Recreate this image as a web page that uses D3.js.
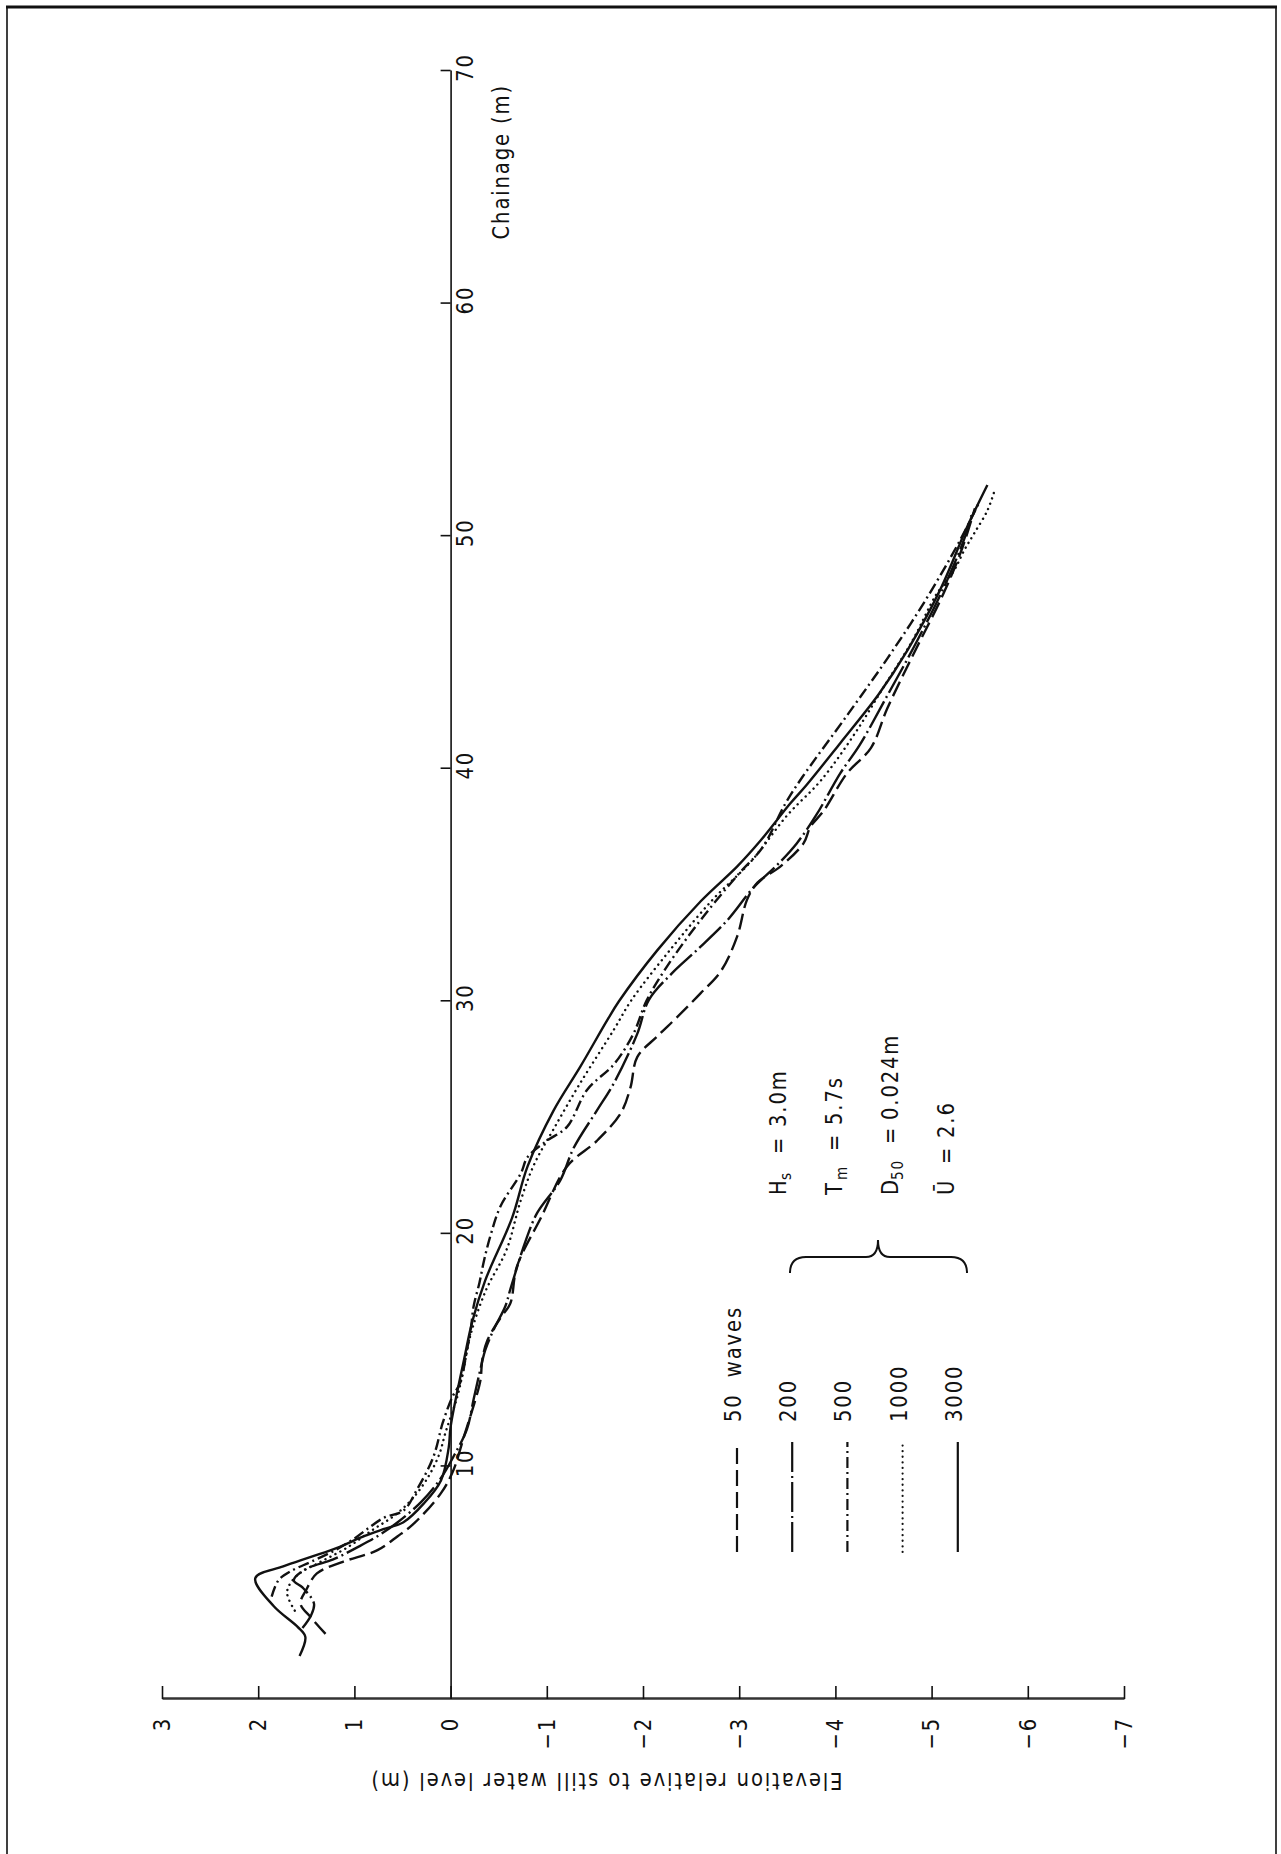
<!DOCTYPE html>
<html>
<head>
<meta charset="utf-8">
<script src="https://cdn.jsdelivr.net/npm/d3@7"></script>
<style>
    body { margin: 0; background: #fff; }
    svg text {
        font-family: "Liberation Sans Narrow", "DejaVu Sans Condensed", "DejaVu Sans", sans-serif;
        font-size: 23px;
        letter-spacing: 2px;
        fill: #111;
    }
</style>
</head>
<body>
<div id="chart"></div>
<script>
// chart data: [chainage (m), elevation (m)]
const chainageTicks = [10, 20, 30, 40, 50, 60, 70];
const elevationTicks = [3, 2, 1, 0, -1, -2, -3, -4, -5, -6, -7];
const seriesLabels = ["50  waves", "200", "500", "1000", "3000"];

const waves50 = [[2.8, 1.30], [3.5, 1.45], [4.1, 1.56], [4.7, 1.50], [5.4, 1.39], [5.9, 1.12], [6.4, 0.76],
    [7.0, 0.55], [7.55, 0.38], [8.85, 0.10], [9.85, -0.03], [11.3, -0.14], [12.9, -0.26], [13.7, -0.31],
    [14.6, -0.33], [15.4, -0.38], [16.4, -0.52], [17.0, -0.62], [18.6, -0.69], [20.7, -0.94], [22.9, -1.21],
    [24.0, -1.52], [25.2, -1.77], [26.3, -1.87], [27.6, -1.94], [28.5, -2.15], [29.3, -2.35], [30.35, -2.6],
    [31.3, -2.81], [32.8, -2.98], [34.35, -3.08], [35.1, -3.19], [35.8, -3.43], [36.8, -3.67], [37.5, -3.74],
    [38.2, -3.88], [39.8, -4.12], [40.9, -4.37], [42.6, -4.54], [45.0, -4.82], [47.5, -5.12], [49.5, -5.32],
    [51.2, -5.45]];
const waves200 = [[3.05, 1.54], [3.6, 1.45], [4.1, 1.42], [4.8, 1.54], [5.1, 1.63], [5.6, 1.50], [6.0, 1.22],
    [6.5, 0.98], [7.0, 0.76], [7.6, 0.55], [8.5, 0.30], [9.5, 0.10], [10.5, -0.04], [11.6, -0.17], [12.9, -0.24],
    [14.0, -0.30], [15.0, -0.36], [15.9, -0.45], [16.9, -0.57], [17.6, -0.62], [19.7, -0.78], [20.9, -0.90],
    [22.3, -1.14], [23.7, -1.28], [25.3, -1.52], [26.5, -1.70], [28.6, -1.94], [30.05, -2.06], [31.2, -2.30],
    [32.2, -2.56], [33.5, -2.88], [34.9, -3.15], [35.8, -3.38], [36.8, -3.60], [38.0, -3.80], [39.8, -4.05],
    [41.0, -4.25], [43.0, -4.52], [45.5, -4.85], [48.0, -5.15], [50.0, -5.35], [51.0, -5.42]];
const waves500 = [[4.4, 1.86], [5.1, 1.79], [5.5, 1.66], [5.9, 1.45], [6.4, 1.20], [6.9, 1.00], [7.3, 0.87],
    [7.8, 0.69], [8.1, 0.49], [9.0, 0.35], [10.4, 0.18], [11.9, 0.08], [13.0, -0.02], [13.6, -0.10],
    [15.0, -0.17], [15.9, -0.21], [16.9, -0.24], [17.9, -0.30], [18.9, -0.35], [20.0, -0.42], [21.2, -0.52],
    [22.6, -0.73], [23.3, -0.80], [24.0, -1.00], [24.6, -1.21], [26.2, -1.42], [27.3, -1.70], [28.6, -1.90],
    [30.05, -2.04], [31.5, -2.25], [33.5, -2.60], [35.5, -3.00], [36.6, -3.24], [38.5, -3.48], [39.6, -3.65],
    [42.4, -4.14], [44.8, -4.55], [47.2, -4.93], [49.7, -5.28], [51.5, -5.50]];
const waves1000 = [[3.8, 1.62], [4.6, 1.70], [5.3, 1.60], [5.9, 1.35], [6.5, 1.08], [7.3, 0.80], [7.9, 0.58],
    [8.6, 0.40], [9.5, 0.24], [10.5, 0.12], [11.5, 0.05], [13.0, -0.07], [14.3, -0.14], [15.7, -0.21],
    [17.6, -0.37], [19.3, -0.58], [21.45, -0.73], [23.0, -0.87], [24.5, -1.07], [26.5, -1.35], [28.8, -1.70],
    [30.05, -1.88], [32.2, -2.28], [34.35, -2.72], [36.0, -3.12], [38.0, -3.50], [39.5, -3.85], [41.5, -4.20],
    [43.5, -4.50], [45.5, -4.80], [47.5, -5.05], [48.5, -5.23], [49.4, -5.34], [50.1, -5.44], [51.1, -5.58],
    [51.9, -5.65]];
const waves3000 = [[1.85, 1.57], [2.67, 1.51], [3.1, 1.59], [4.0, 1.84], [5.2, 2.03], [5.7, 1.74], [6.1, 1.46],
    [6.5, 1.18], [7.0, 0.90], [7.3, 0.70], [7.6, 0.49], [8.4, 0.28], [9.4, 0.10], [10.8, 0.02], [11.7, 0.0],
    [14.6, -0.14], [16.3, -0.23], [18.0, -0.36], [20.7, -0.64], [22.9, -0.80], [25.3, -1.07], [27.2, -1.35],
    [29.2, -1.63], [30.0, -1.75], [32.2, -2.15], [34.3, -2.60], [35.8, -2.98], [36.9, -3.22], [38.5, -3.53],
    [39.3, -3.70], [41.1, -4.05], [43.2, -4.45], [45.1, -4.75], [47.7, -5.09], [50.4, -5.37], [52.2, -5.58]];
const seriesData = [waves50, waves200, waves500, waves1000, waves3000];

const paramSymbols = ["H", "T", "D", "\u016A"];
const paramSubs = ["s", "m", "50", ""];
const paramValues = ["3.0m", "5.7s", "0.024m", "2.6"];

// line styles per series
const dashes = ["16,6", "30,4,2,4", "11,4,2,4", "0.1,5.5", null];

// where the "=" and the value start in each parameter row
const eqAt = [545, 548, 555, 535];
const valueAt = [572, 574, 579, 561];

const W = 1281, H = 1854;

let svg = d3.select('#chart')
    .append('svg')
    .attr('width', W)
    .attr('height', H);

// page frame (no bottom edge)
svg.append('path')
    .attr('d', 'M7,' + H + 'V7H1276V' + H)
    .attr('fill', 'none')
    .attr('stroke', '#111')
    .attr('stroke-width', 1.6);
svg.append('line')
    .attr('x1', 6).attr('x2', 1277).attr('y1', 7).attr('y2', 7)
    .attr('stroke', '#111').attr('stroke-width', 3);

// the whole chart is drawn normally and turned a quarter anticlockwise
let x = d3.scaleLinear().domain([0, 70]).range([0, 1628]);      // chainage
let y = d3.scaleLinear().domain([3, -7]).range([162, 1124]);    // elevation

let g = svg.append('g')
    .attr('transform', 'translate(0,1699) rotate(-90)');

// chainage axis along still water level
let xAxis = g.append('g')
    .attr('transform', 'translate(0,' + y(0) + ')')
    .call(d3.axisBottom(x)
        .tickValues(chainageTicks)
        .tickSizeInner(-10)
        .tickSizeOuter(0)
        .tickPadding(6)
        .tickFormat(d3.format('d')));
xAxis.selectAll('text').attr('x', 3);

// elevation axis
let yAxis = g.append('g')
    .call(d3.axisLeft(y)
        .tickValues(elevationTicks)
        .tickSizeInner(-13)
        .tickSizeOuter(0)
        .tickPadding(18)
        .tickFormat(d3.format('d')));

[xAxis, yAxis].forEach((a) => {
    a.select('.domain').attr('stroke', '#111').attr('stroke-width', 1.6);
    a.selectAll('.tick line').attr('stroke', '#111').attr('stroke-width', 1.6);
    a.attr('font-family', null).attr('font-size', null);
});
yAxis.select('.domain').attr('stroke', '#333').attr('stroke-width', 2.4);

// axis titles
let chainTitle = g.append('text')
    .attr('x', x(66.1))
    .attr('y', 509)
    .attr('text-anchor', 'middle')
    .text('Chainage (m)');

let elevTitle = g.append('g')
    .attr('transform', 'translate(-74,606) rotate(-90)')
    .append('text')
    .attr('x', 0)
    .attr('text-anchor', 'middle')
    .text('Elevation relative to still water level (m)');

// profiles
let line = d3.line()
    .x((d) => x(d[0]))
    .y((d) => y(d[1]))
    .curve(d3.curveCatmullRom.alpha(0.5));

g.selectAll('path.profile')
    .data(seriesData)
    .enter()
    .append('path')
    .attr('class', 'profile')
    .attr('d', line)
    .attr('fill', 'none')
    .attr('stroke', '#111')
    .attr('stroke-width', 2.4)
    .attr('stroke-linecap', (d, i) => i === 3 ? 'round' : 'butt')
    .attr('stroke-dasharray', (d, i) => dashes[i]);

// legend
let legend = g.selectAll('g.legend')
    .data(seriesLabels)
    .enter()
    .append('g')
    .attr('class', 'legend')
    .attr('transform', (d, i) => 'translate(0,' + (737 + i * 55.2) + ')');

legend.append('line')
    .attr('x1', 147).attr('x2', 257)
    .attr('stroke', '#111')
    .attr('stroke-width', 2.2)
    .attr('stroke-linecap', (d, i) => i === 3 ? 'round' : 'butt')
    .attr('stroke-dasharray', (d, i) => dashes[i]);

legend.append('text')
    .attr('x', 277)
    .attr('y', -4)
    .attr('dy', '0.35em')
    .style('white-space', 'pre')
    .text((d) => d);

// wave parameters
let params = g.selectAll('g.param')
    .data(paramSymbols)
    .enter()
    .append('g')
    .attr('class', 'param')
    .attr('transform', (d, i) => 'translate(0,' + (778 + i * 56) + ')');

params.append('text')
    .attr('x', 504).attr('dy', '0.35em')
    .text((d) => d);
params.append('text')
    .attr('x', 519).attr('y', 7).attr('dy', '0.35em')
    .style('font-size', '16px')
    .text((d, i) => paramSubs[i]);
params.append('text')
    .attr('x', (d, i) => eqAt[i]).attr('dy', '0.35em')
    .text('=');
params.append('text')
    .attr('x', (d, i) => valueAt[i]).attr('dy', '0.35em')
    .text((d, i) => paramValues[i]);

// brace grouping the parameters
g.append('path')
    .attr('d', 'M426,790Q442,790 442,806L442,866Q442,878 459,878Q442,878 442,890L442,951Q442,967 426,967')
    .attr('fill', 'none')
    .attr('stroke', '#111')
    .attr('stroke-width', 2);

// squeeze every label to the narrow plotter lettering, scaling about its anchor
let natural = elevTitle.node().getComputedTextLength() + chainTitle.node().getComputedTextLength();
let k = (487 + 142) / natural;
g.selectAll('text').each(function () {
    let x0 = +(this.getAttribute('x') || 0);
    d3.select(this)
        .attr('transform', 'translate(' + x0 + ',0) scale(' + k + ',1) translate(' + (-x0) + ',0)');
});
</script>
</body>
</html>
